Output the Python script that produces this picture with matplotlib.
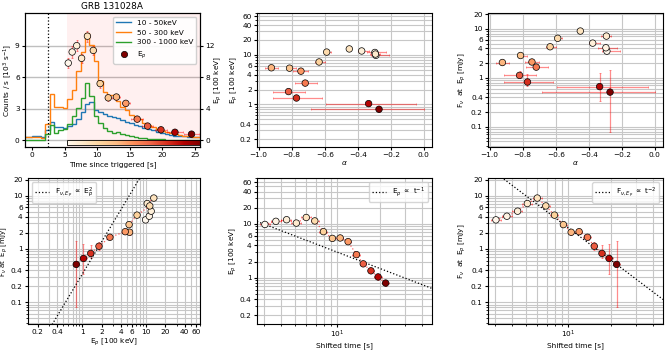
import numpy as np
import matplotlib.pyplot as plt
from matplotlib.lines import Line2D
from matplotlib.patches import Rectangle
from matplotlib.ticker import NullFormatter

plt.rcParams['font.size'] = 5.3
plt.rcParams['axes.linewidth'] = 0.8
plt.rcParams['axes.labelpad'] = 2
for a in ('xtick', 'ytick'):
    plt.rcParams[a + '.major.size'] = 2.0
    plt.rcParams[a + '.minor.size'] = 1.2
    plt.rcParams[a + '.major.pad'] = 1.8
    plt.rcParams[a + '.minor.pad'] = 1.8

# ---- light curves (10^3 counts/s), bins of 0.68 s ----
edges = np.linspace(-1.4, 25.8, 41)
lc_soft = [0.3, 0.35, 0.4, 0.45, 0.3, 1.0, 1.75, 1.25, 1.3, 1.15,
           1.35, 1.6, 2.0, 2.7, 3.5, 3.65, 2.9, 2.7, 2.5, 2.35,
           2.2, 2.1, 1.95, 1.8, 1.65, 1.5, 1.35, 1.2, 1.05, 0.95,
           0.8, 0.7, 0.6, 0.5, 0.45, 0.4, 0.38, 0.35, 0.33, 0.3]
lc_mid = [0.3, 0.35, 0.35, 0.3, 0.25, 1.55, 4.4, 3.2, 3.15, 3.1,
          3.9, 4.8, 6.6, 8.4, 10.2, 9.1, 7.5, 5.6, 4.6, 4.3,
          4.3, 3.7, 3.2, 2.9, 2.4, 2.1, 2.0, 1.7, 1.45, 1.3,
          1.1, 0.9, 0.8, 0.7, 0.6, 0.5, 0.45, 0.4, 0.35, 0.3]
lc_hard = [0.05, 0.05, 0.05, 0.05, 0.05, 0.6, 1.5, 0.7, 1.0, 1.05,
           1.6, 2.3, 3.1, 4.0, 5.5, 4.2, 2.3, 1.7, 1.2, 0.9,
           0.75, 0.8, 0.65, 0.5, 0.4, 0.3, 0.25, 0.2, 0.15, 0.12,
           0.1, 0.1, 0.08, 0.08, 0.06, 0.06, 0.05, 0.05, 0.05, 0.05]
band_labels = ['10 - 50keV', '50 - 300 keV', '300 - 1000 keV']

# ---- time-resolved spectral fits ----
t_mid = [5.55, 6.15, 6.85, 7.6, 8.5, 9.4, 10.45, 11.7, 12.95, 14.4,
         16.15, 17.75, 19.8, 21.95, 24.5]
t_err = [0.25, 0.3, 0.35, 0.4, 0.45, 0.45, 0.5, 0.55, 0.55, 0.65,
         0.9, 0.8, 0.95, 1.2, 1.2]
ep = [9.8, 11.2, 12.0, 10.4, 13.2, 11.4, 7.2, 5.4, 5.5, 4.7,
      2.7, 1.82, 1.35, 1.04, 0.8]
ep_err = [0.6, 0.7, 0.7, 0.6, 0.7, 0.6, 0.5, 0.35, 0.4, 0.35,
          0.2, 0.15, 0.12, 0.12, 0.08]
alpha = [-0.29, -0.296, -0.376, -0.293, -0.451, -0.588, -0.634, -0.813,
         -0.923, -0.744, -0.718, -0.819, -0.771, -0.334, -0.271]
alpha_lo = [0.03, 0.045, 0.02, 0.03, 0.01, 0.012, 0.026, 0.016, 0.037,
            0.045, 0.061, 0.092, 0.14, 0.26, 0.41]
alpha_hi = [0.08, 0.065, 0.042, 0.03, 0.01, 0.028, 0.034, 0.038, 0.038,
            0.041, 0.07, 0.101, 0.154, 0.29, 0.27]
fnu = [3.5, 4.1, 5.1, 7.1, 9.0, 6.4, 4.3, 2.85, 2.05, 2.1,
       1.65, 1.12, 0.82, 0.66, 0.51]
fnu_lo = [0.3, 0.3, 0.4, 0.5, 0.6, 0.5, 0.35, 0.25, 0.2, 0.2,
          0.15, 0.15, 0.15, 0.33, 0.43]
fnu_hi = [0.3, 0.3, 0.4, 0.5, 0.6, 0.5, 0.35, 0.25, 0.2, 0.2,
          0.15, 0.25, 0.35, 0.58, 0.92]

t0 = 2.5          # zero point for shifted time
t_start, t_end = 5.3, 25.8

ep_ticks = [0.2, 0.4, 1, 2, 4, 6, 10, 20, 40, 60]
fnu_ticks = [0.1, 0.2, 0.4, 1, 2, 4, 6, 10, 20]
ep_lim = (0.14, 70)
fnu_lim = (0.039, 21)
alpha_lim = (-1.01, 0.05)

t_mid = np.array(t_mid)
t_shift = t_mid - t0
ep = np.array(ep)
fnu = np.array(fnu)
cmap = plt.get_cmap('OrRd')
cols = cmap((t_mid - t_mid.min()) / (t_mid.max() - t_mid.min()))

ekw = dict(fmt='none', ecolor='red', alpha=0.45, elinewidth=0.9, capsize=1, capthick=0.6)
skw = dict(s=22, edgecolors='k', linewidths=0.5, zorder=5)


def log_ticks(axis, ticks):
    axis.set_major_locator(plt.FixedLocator(ticks))
    axis.set_major_formatter(plt.FixedFormatter([f'{v:g}' for v in ticks]))
    axis.set_minor_formatter(NullFormatter())


def grid(ax):
    ax.grid(True, which='both', color='0.78', lw=0.8)
    ax.set_axisbelow(True)


fig = plt.figure(figsize=(6.7, 3.52), dpi=100)
W = 0.2612
top_b, top_h = 0.583, 0.380
bot_b, bot_h = 0.080, 0.413
lefts = [0.0373, 0.3836, 0.7284]

# ---------------- light curve ----------------
ax = fig.add_axes([lefts[0], top_b, W, top_h])
ylo, yhi = -0.6, 12.1
ax.axvspan(t_start, t_end, color='red', alpha=0.06, lw=0)
for vals, c in zip([lc_soft, lc_mid, lc_hard], ['C0', 'C1', 'C2']):
    ax.stairs(vals, edges, baseline=None, color=c, lw=1.0)
ax.axvline(t0, color='k', ls=':', lw=0.9)
ax.imshow(np.linspace(0, 1, 256)[None, :], extent=[t_start, t_end, -0.42, 0],
          aspect='auto', cmap=cmap, zorder=3)
ax.add_patch(Rectangle((t_start, -0.42), t_end - t_start, 0.42, fill=False,
                       ec='k', lw=0.6, zorder=4))
ax.set_xlim(-1.1, 25.8)
ax.set_ylim(ylo, yhi)
ax.set_yticks([0, 3, 6, 9])
ax.set_xticks([0, 5, 10, 15, 20, 25])
ax.yaxis.grid(True, color='0.75', lw=1.0)
ax.set_axisbelow(True)
ax.set_xlabel('Time since triggered [s]')
ax.set_ylabel('Counts / s [10$^3$ s$^{-1}$]')
ax.yaxis.set_label_coords(-0.06, 0.5)
ax.set_title('GRB 131028A', pad=3)
ax2 = ax.twinx()
ax2.errorbar(t_mid, ep, xerr=t_err, yerr=ep_err, **ekw)
ax2.scatter(t_mid, ep, c=cols, **skw)
ax2.set_ylim(ylo * 4 / 3, yhi * 4 / 3)
ax2.set_yticks([0, 4, 8, 12])
ax2.set_ylabel('E$_p$ [100 keV]')
ax2.yaxis.set_label_coords(1.07, 0.5)
handles = [Line2D([], [], color=c, lw=1.0, label=l)
           for c, l in zip(['C0', 'C1', 'C2'], band_labels)]
handles.append(Line2D([], [], ls='none', marker='o', ms=4.5, mfc=cmap(1.0),
                      mec='k', mew=0.5, label='E$_p$'))
ax2.legend(handles=handles, loc='upper right', fontsize=5.3, framealpha=0.9)

# ---------------- Ep vs alpha ----------------
ax = fig.add_axes([lefts[1], top_b, W, top_h])
ax.errorbar(alpha, ep, xerr=[alpha_lo, alpha_hi], yerr=ep_err, **ekw)
ax.scatter(alpha, ep, c=cols, **skw)
ax.set_yscale('log')
ax.set_ylim(*ep_lim)
ax.set_xlim(*alpha_lim)
log_ticks(ax.yaxis, ep_ticks)
ax.set_xticks([-1.0, -0.8, -0.6, -0.4, -0.2, 0.0])
grid(ax)
ax.set_xlabel(r'$\alpha$', labelpad=0.5)
ax.set_ylabel('E$_p$ [100 keV]')
ax.yaxis.set_label_coords(-0.095, 0.5)

# ---------------- Fnu vs alpha ----------------
ax = fig.add_axes([lefts[2], top_b, W, top_h])
ax.errorbar(alpha, fnu, xerr=[alpha_lo, alpha_hi], yerr=[fnu_lo, fnu_hi], **ekw)
ax.scatter(alpha, fnu, c=cols, **skw)
ax.set_yscale('log')
ax.set_ylim(*fnu_lim)
ax.set_xlim(*alpha_lim)
log_ticks(ax.yaxis, fnu_ticks)
ax.set_xticks([-1.0, -0.8, -0.6, -0.4, -0.2, 0.0])
grid(ax)
ax.set_xlabel(r'$\alpha$', labelpad=0.5)
ax.set_ylabel(r'F$_\nu$  at  E$_p$ [mJy]')
ax.yaxis.set_label_coords(-0.115, 0.5)

# ---------------- Fnu vs Ep ----------------
bl_left = 28 / 670
ax = fig.add_axes([bl_left, bot_b, lefts[0] + W - bl_left, bot_h])
ax.errorbar(ep, fnu, xerr=ep_err, yerr=[fnu_lo, fnu_hi], **ekw)
ax.plot(ep, fnu, 'r:', lw=0.9, alpha=0.6)
ax.scatter(ep, fnu, c=cols, **skw)
ex = np.array(ep_lim)
k2 = fnu[11] / ep[11] ** 2
ax.plot(ex, k2 * ex ** 2, 'k:', lw=0.9,
        label=r'F$_{\nu, E_p}$ $\propto$ E$_p^2$')
ax.set_xscale('log')
ax.set_yscale('log')
ax.set_xlim(*ep_lim)
ax.set_ylim(*fnu_lim)
log_ticks(ax.xaxis, ep_ticks)
log_ticks(ax.yaxis, fnu_ticks)
grid(ax)
ax.legend(loc='upper left', fontsize=5.3)
ax.set_xlabel('E$_p$ [100 keV]', labelpad=1)
ax.set_ylabel(r'F$_\nu$ at  E$_p$ [mJy]', fontsize=5.0)
ax.yaxis.set_label_coords(-0.105, 0.5)

# ---------------- Ep vs shifted time ----------------
tl = np.array([2.68, 47])
ax = fig.add_axes([lefts[1], bot_b, W, bot_h])
ax.errorbar(t_shift, ep, xerr=t_err, yerr=ep_err, **ekw)
ax.plot(t_shift, ep, 'r:', lw=0.9, alpha=0.6)
ax.scatter(t_shift, ep, c=cols, **skw)
ax.plot(tl, ep[0] * t_shift[0] / tl, 'k:', lw=0.9,
        label=r'E$_p$ $\propto$ t$^{-1}$')
ax.set_xscale('log')
ax.set_yscale('log')
ax.set_xlim(*tl)
ax.set_ylim(*ep_lim)
log_ticks(ax.yaxis, ep_ticks)
ax.xaxis.set_minor_formatter(NullFormatter())
grid(ax)
ax.legend(loc='upper right', fontsize=5.3)
ax.set_xlabel('Shifted time [s]', labelpad=1)
ax.set_ylabel('E$_p$ [100 keV]')
ax.yaxis.set_label_coords(-0.105, 0.5)

# ---------------- Fnu vs shifted time ----------------
ax = fig.add_axes([lefts[2], bot_b, W, bot_h])
ax.errorbar(t_shift, fnu, xerr=t_err, yerr=[fnu_lo, fnu_hi], **ekw)
ax.plot(t_shift, fnu, 'r:', lw=0.9, alpha=0.6)
ax.scatter(t_shift, fnu, c=cols, **skw)
ax.plot(tl, fnu[-1] * (t_shift[-1] / tl) ** 2, 'k:', lw=0.9,
        label=r'F$_{\nu, E_p}$ $\propto$ t$^{-2}$')
ax.set_xscale('log')
ax.set_yscale('log')
ax.set_xlim(*tl)
ax.set_ylim(*fnu_lim)
log_ticks(ax.yaxis, fnu_ticks)
ax.xaxis.set_minor_formatter(NullFormatter())
grid(ax)
ax.legend(loc='upper right', fontsize=5.3)
ax.set_xlabel('Shifted time [s]', labelpad=1)
ax.set_ylabel(r'F$_\nu$  at  E$_p$ [mJy]')
ax.yaxis.set_label_coords(-0.115, 0.5)

fig.savefig('out.png', dpi=100)
